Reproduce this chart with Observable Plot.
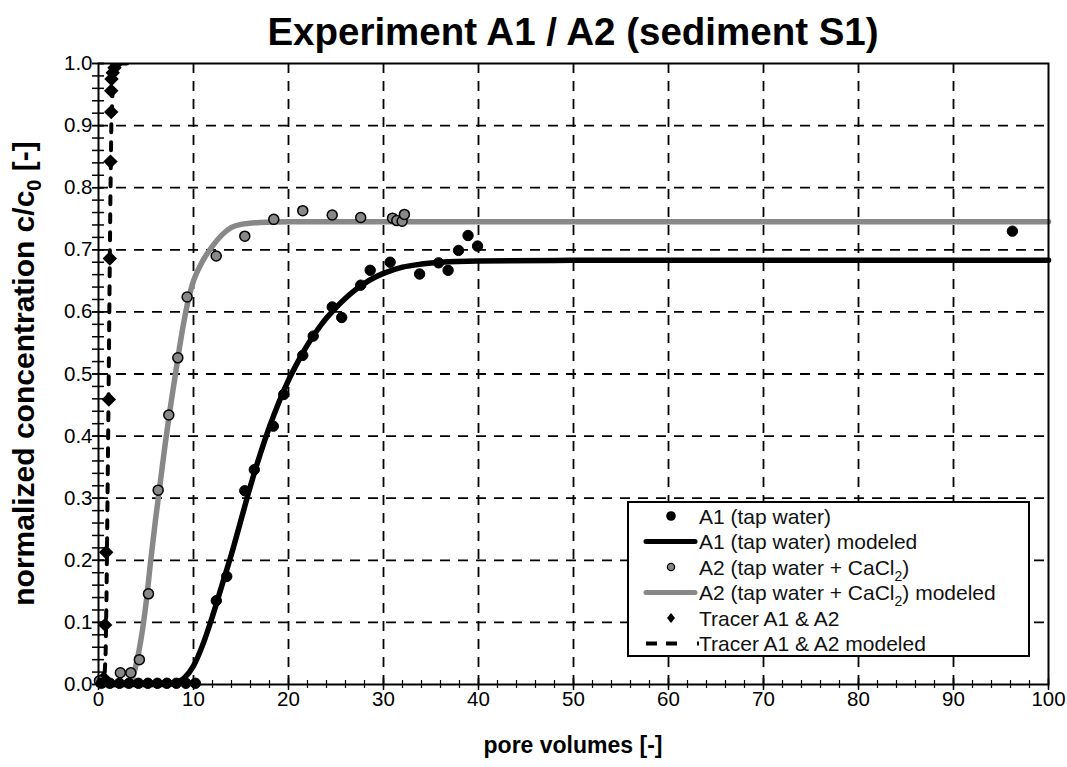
<!DOCTYPE html>
<html>
<head>
<meta charset="utf-8">
<script src="https://cdn.jsdelivr.net/npm/d3@7"></script>
<script src="https://cdn.jsdelivr.net/npm/@observablehq/plot@0.6"></script>
<style>
  html, body { margin: 0; padding: 0; background: #fff; }
  svg { font-family: Arial, "Liberation Sans", sans-serif; }
</style>
</head>
<body>
<div id="chart"></div>
<script>
// ---- data ----
const a1X = [0.3, 1.2, 2.2, 3.2, 4.2, 5.2, 6.2, 7.2, 8.2, 9.2, 10.2, 12.4, 13.5, 15.4, 16.4, 18.4, 19.5, 21.5, 22.6, 24.6, 25.6, 27.6, 28.6, 30.7, 33.8, 35.8, 36.8, 37.9, 38.9, 39.9, 96.2];
const a1Y = [0.002, 0.002, 0.002, 0.002, 0.002, 0.002, 0.002, 0.002, 0.002, 0.002, 0.002, 0.135, 0.174, 0.312, 0.346, 0.416, 0.467, 0.530, 0.561, 0.608, 0.591, 0.643, 0.667, 0.680, 0.661, 0.679, 0.667, 0.699, 0.723, 0.706, 0.730];

const a2X = [0.1, 2.3, 3.4, 4.3, 5.26, 6.28, 7.4, 8.35, 9.33, 12.39, 15.4, 18.45, 21.5, 24.6, 27.6, 30.95, 31.4, 31.96, 32.2];
const a2Y = [0.006, 0.019, 0.019, 0.040, 0.146, 0.313, 0.434, 0.526, 0.624, 0.690, 0.722, 0.749, 0.763, 0.756, 0.752, 0.751, 0.747, 0.746, 0.757];

const trX = [0.3, 0.55, 0.7, 0.81, 1.09, 1.19, 1.26, 1.34, 1.34, 1.37, 1.5, 1.68, 1.9];
const trY = [0.002, 0.01, 0.096, 0.213, 0.459, 0.686, 0.842, 0.922, 0.956, 0.975, 0.985, 0.993, 1.0];

const a1ModelX = [0, 7, 8, 9, 10, 11, 12, 13, 14, 15, 16, 17, 18, 19, 20, 21, 22, 23, 24, 25, 26, 27, 28, 29, 30, 32, 34, 36, 40, 50, 100];
const a1ModelY = [0, 0, 0.002, 0.01, 0.03, 0.065, 0.11, 0.16, 0.21, 0.265, 0.32, 0.37, 0.415, 0.455, 0.49, 0.52, 0.547, 0.57, 0.59, 0.607, 0.622, 0.635, 0.646, 0.655, 0.662, 0.672, 0.677, 0.68, 0.682, 0.683, 0.683];

const a2ModelX = [0, 3, 3.5, 4, 4.5, 5, 5.5, 6, 6.5, 7, 7.5, 8, 8.5, 9, 9.5, 10, 10.5, 11, 12, 13, 14, 15, 17, 20, 100];
const a2ModelY = [0, 0, 0.008, 0.035, 0.075, 0.13, 0.2, 0.265, 0.325, 0.385, 0.44, 0.49, 0.54, 0.585, 0.622, 0.65, 0.668, 0.683, 0.706, 0.724, 0.736, 0.741, 0.744, 0.745, 0.745];

const trModelX = [0, 0.6, 0.75, 0.85, 0.95, 1.05, 1.15, 1.25, 1.35, 1.5, 1.7, 2.0, 3.0];
const trModelY = [0, 0, 0.05, 0.15, 0.3, 0.45, 0.62, 0.78, 0.9, 0.96, 0.99, 1.0, 1.0];

const xTicks = d3.range(0, 101, 10);
const yTicks = d3.range(0, 1.0001, 0.1).map(v => +v.toFixed(1));
const yMinor = d3.range(0, 1.0001, 0.02).map(v => +v.toFixed(2));

const legendItems = [
  {label: "A1 (tap water)", kind: "dotA1"},
  {label: "A1 (tap water) modeled", kind: "lineA1"},
  {label: "A2 (tap water + CaCl", sub: "2", tail: ")", kind: "dotA2"},
  {label: "A2 (tap water + CaCl", sub: "2", tail: ") modeled", kind: "lineA2"},
  {label: "Tracer A1 & A2", kind: "diamond"},
  {label: "Tracer A1 & A2 modeled", kind: "dash"}
];

// ---- build tables ----
const zip = (xs, ys) => xs.map((x, i) => ({x, y: ys[i]}));
const a1 = zip(a1X, a1Y), a2 = zip(a2X, a2Y), tr = zip(trX, trY);
const a1m = zip(a1ModelX, a1ModelY), a2m = zip(a2ModelX, a2ModelY), trm = zip(trModelX, trModelY);

const W = 1067, H = 767;
const mL = 98, mR = 19, mT = 63, mB = 83;

const chart = Plot.plot({
  width: W, height: H,
  marginLeft: mL, marginRight: mR, marginTop: mT, marginBottom: mB,
  style: {fontFamily: "Arial, 'Liberation Sans', sans-serif", background: "#fff"},
  x: {domain: [0, 100]},
  y: {domain: [0, 1]},
  marks: [
    Plot.gridX(xTicks.filter(d => d > 0 && d < 100), {stroke: "#000", strokeOpacity: 1, strokeWidth: 1.8, strokeDasharray: "10,8"}),
    Plot.gridY(yTicks.filter(d => d > 0 && d < 1), {stroke: "#000", strokeOpacity: 1, strokeWidth: 1.8, strokeDasharray: "10,8"}),
    // tracer modeled
    Plot.line(trm, {x: "x", y: "y", stroke: "#000", strokeWidth: 4, strokeDasharray: "8,10", clip: true}),
    // models
    Plot.line(a2m, {x: "x", y: "y", stroke: "#888", strokeWidth: 5.5, curve: "monotone-x"}),
    Plot.line(a1m, {x: "x", y: "y", stroke: "#000", strokeWidth: 5.5, curve: "monotone-x"}),
    // data points
    Plot.dot(tr, {x: "x", y: "y", symbol: "diamond2", r: 6.5, fill: "#000", stroke: "none", clip: true}),
    Plot.dot(a2, {x: "x", y: "y", r: 5, fill: "#888", stroke: "#000", strokeWidth: 1.5}),
    Plot.dot(a1, {x: "x", y: "y", r: 5.2, fill: "#000", stroke: "#000", strokeWidth: 1}),
    Plot.frame({stroke: "#000", strokeWidth: 2}),
    // axes
    Plot.axisY({ticks: yMinor, tickSize: 12, dx: 6, label: null, tickFormat: () => "", stroke: "#000", strokeWidth: 1.5}),
    Plot.axisY({ticks: yTicks, tickSize: 12, dx: 6, tickPadding: 0, label: null, tickFormat: d => d.toFixed(1), fontSize: 20.5, fill: "#000", stroke: "#000", strokeWidth: 1.5}),
    Plot.axisX({ticks: xTicks, tickSize: 12, dy: -6, tickPadding: 1, label: null, tickFormat: d => String(d), fontSize: 20.5, fill: "#000", stroke: "#000", strokeWidth: 1.5}),
    Plot.axisX({ticks: d3.range(0, 101, 2), tickSize: 8, dy: -4, label: null, tickFormat: () => "", stroke: "#000", strokeWidth: 1.2})
  ]
});

// ---- titles and legend added with d3 into the same svg ----
const svg = d3.select(chart);
svg.append("text")
  .attr("x", (mL + W - mR) / 2).attr("y", 45)
  .attr("text-anchor", "middle")
  .attr("font-size", 38.5).attr("font-weight", "bold").attr("fill", "#000")
  .text("Experiment A1 / A2 (sediment S1)");

svg.append("text")
  .attr("x", (mL + W - mR) / 2).attr("y", 753)
  .attr("text-anchor", "middle")
  .attr("font-size", 23).attr("font-weight", "bold").attr("fill", "#000")
  .text("pore volumes [-]");

const yl = svg.append("text")
  .attr("transform", `translate(34,${(mT + H - mB) / 2}) rotate(-90)`)
  .attr("text-anchor", "middle")
  .attr("font-size", 30).attr("font-weight", "bold").attr("fill", "#000");
yl.append("tspan").text("normalized concentration c/c");
yl.append("tspan").attr("font-size", 20).attr("dy", 7).text("0");
yl.append("tspan").attr("dy", -7).text(" [-]");

// legend
const lg = svg.append("g").attr("text-anchor", "start");
const lx0 = 628, ly0 = 502, lw = 401, lh = 154;
lg.append("rect").attr("x", lx0).attr("y", ly0).attr("width", lw).attr("height", lh)
  .attr("fill", "#fff").attr("stroke", "#000").attr("stroke-width", 2);
legendItems.forEach((d, i) => {
  const cy = 516 + i * 25.5;
  const g = lg.append("g");
  if (d.kind === "dotA1") g.append("circle").attr("cx", 671).attr("cy", cy).attr("r", 4.8).attr("fill", "#000");
  if (d.kind === "dotA2") g.append("circle").attr("cx", 671).attr("cy", cy).attr("r", 3.6).attr("fill", "#888").attr("stroke", "#000").attr("stroke-width", 1.3);
  if (d.kind === "lineA1") g.append("line").attr("x1", 646).attr("x2", 695).attr("y1", cy).attr("y2", cy).attr("stroke", "#000").attr("stroke-width", 5).attr("stroke-linecap", "round");
  if (d.kind === "lineA2") g.append("line").attr("x1", 646).attr("x2", 695).attr("y1", cy).attr("y2", cy).attr("stroke", "#888").attr("stroke-width", 5).attr("stroke-linecap", "round");
  if (d.kind === "diamond") g.append("path").attr("d", `M671,${cy - 5}L675,${cy}L671,${cy + 5}L667,${cy}Z`).attr("fill", "#000");
  if (d.kind === "dash") g.append("line").attr("x1", 646).attr("x2", 700).attr("y1", cy).attr("y2", cy).attr("stroke", "#000").attr("stroke-width", 4).attr("stroke-dasharray", "11,9,11,20,2");
  const t = g.append("text").attr("x", 699).attr("y", cy).attr("dy", "0.36em").attr("font-size", 21).attr("fill", "#111").attr("text-anchor", "start");
  t.append("tspan").text(d.label);
  if (d.sub) {
    t.append("tspan").attr("font-size", 14).attr("dy", 6).text(d.sub);
    t.append("tspan").attr("dy", -6).text(d.tail);
  }
});

document.getElementById("chart").appendChild(chart);
</script>
</body>
</html>
